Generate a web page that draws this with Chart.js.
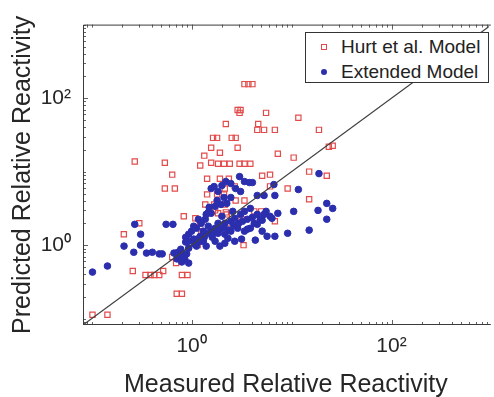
<!DOCTYPE html>
<html>
<head>
<meta charset="utf-8">
<script src="https://cdn.jsdelivr.net/npm/chart.js@4.4.0/dist/chart.umd.min.js"></script>
<style>
  html, body { margin: 0; padding: 0; background: #fff; overflow: hidden; }
  #wrap { position: relative; width: 494px; height: 397px; }
  #legend {
    position: absolute; left: 305px; top: 32px; width: 184px; height: 51px;
    border: 1px solid #333; background: #fff; box-sizing: border-box;
    font: 19px "Liberation Sans", Arial, sans-serif; color: #222;
  }
  .row { position: absolute; left: 0; height: 22px; line-height: 22px; white-space: nowrap; }
  .row span.txt { position: absolute; left: 35px; top: 0; }
  .mk { position: absolute; box-sizing: border-box; }
  .sq { left: 15px; top: 8px; width: 6px; height: 6px; border: 1.2px solid #e34b4b; }
  .dot { left: 15px; top: 8px; width: 6px; height: 6px; border-radius: 50%; background: #2b2fae; }
</style>
</head>
<body>
<div id="wrap">
  <canvas id="chart"></canvas>
  <div id="legend">
    <div class="row" style="top:3px"><span class="mk sq"></span><span class="txt">Hurt et al. Model</span></div>
    <div class="row" style="top:28px"><span class="mk dot"></span><span class="txt">Extended Model</span></div>
  </div>
</div>
<script>
(() => {

/* ---------- DATA ---------- */

const hurtX = [3.38, 3.70, 4.06, 2.89, 3.09, 3.02, 5.56, 11.7, 2.20, 4.64,
  4.54, 5.31, 6.81, 18.8, 1.64, 1.80, 2.52, 2.76, 1.57, 2.89,
  23.6, 25.8, 1.92, 1.34, 7.29, 10.5, 0.27, 0.54, 1.22, 1.57,
  1.84, 2.11, 2.41, 3.02, 3.38, 3.87, 0.64, 1.43, 1.92, 2.36,
  5.08, 6.09, 15.0, 22.5, 0.54, 0.68, 2.70, 2.15, 6.09, 9.14,
  1.43, 1.80, 2.11, 2.76, 3.38, 15.0, 1.37, 1.68, 2.15, 0.835,
  1.09, 1.22, 0.30, 0.21, 1.72, 2.20, 4.24, 4.97, 6.81, 2.25,
  1.15, 3.31, 0.64, 0.70, 0.258, 0.346, 0.388, 0.424, 0.475, 0.52,
  0.80, 0.91, 0.71, 0.80, 0.102, 0.144, 1.25, 2.41, 3.16, 1.84];
const hurtY = [155, 155, 155, 69, 69, 63, 63, 54, 44.5, 44.5,
  37, 37, 37, 37, 28.8, 28.8, 28.8, 28.8, 21.1, 21.1,
  21.8, 22.5, 18.1, 16.5, 17.5, 15.5, 13.7, 13.2, 12.1, 13.2,
  12.8, 12.8, 12.8, 12.8, 12.8, 12.8, 9.1, 8.0, 8.0, 8.0,
  8.8, 9.1, 10, 8.8, 5.9, 5.9, 6.3, 5.9, 6.3, 5.9,
  4.9, 4.9, 4.9, 4.06, 4.06, 4.2, 3.58, 3.58, 3.58, 2.47,
  2.32, 1.98, 1.98, 1.41, 2.97, 2.79, 2.88, 2.88, 2.11, 2.62,
  1.0, 1.0, 0.69, 0.57, 0.445, 0.393, 0.393, 0.393, 0.393, 0.445,
  0.393, 0.393, 0.218, 0.218, 0.113, 0.113, 1.55, 1.98, 2.25, 2.71];

const extX = [0.102, 0.144, 0.211, 0.270, 0.309, 0.264, 0.309, 0.354, 0.405, 0.475,
  0.508, 0.556, 0.651, 0.667, 0.729, 0.780, 0.835, 0.893, 0.798, 0.854,
  0.935, 0.798, 0.713, 0.935, 0.873, 0.935, 1.0, 1.12, 1.05, 1.22,
  1.31, 1.17, 1.25, 1.40, 1.57, 1.47, 1.72, 1.97, 2.25, 1.57,
  1.68, 1.84, 2.01, 2.20, 2.47, 2.76, 3.02, 3.38, 3.79, 4.06,
  3.09, 1.57, 1.72, 1.84, 2.15, 2.47, 2.70, 3.09, 3.38, 3.87,
  4.54, 5.31, 6.37, 2.15, 2.47, 2.89, 3.38, 3.87, 4.54, 5.08,
  5.69, 1.72, 2.15, 2.70, 3.16, 4.34, 6.81, 9.14, 15.0, 3.62,
  4.24, 5.08, 5.56, 6.09, 7.29, 10.5, 18.4, 22.5, 25.8, 22.5,
  4.54, 5.31, 6.81, 11.7, 18.8, 6.66, 1.31, 1.12, 1.40, 1.84,
  2.01, 2.58, 2.31, 1.17, 1.05, 1.47, 1.92,
  1.07, 1.14, 1.25, 1.34, 1.47, 1.61, 1.76, 1.92, 2.11, 2.36,
  2.64, 2.96, 3.23, 3.62, 4.06, 4.86, 1.37, 1.50, 1.80, 2.11,
  2.47, 0.935, 0.873];
const extY = [0.43, 0.52, 0.97, 1.92, 1.41, 0.80, 1.0, 0.78, 0.80, 0.76,
  0.76, 1.92, 1.92, 0.78, 0.80, 0.88, 0.76, 0.76, 0.69, 0.65,
  0.57, 0.59, 0.65, 0.91, 1.10, 1.41, 1.55, 1.70, 1.21, 1.32,
  1.55, 2.25, 1.98, 2.62, 2.71, 2.79, 3.37, 3.58, 3.70, 5.89,
  6.27, 5.37, 6.47, 7.33, 6.89, 5.89, 8.56, 7.33, 7.10, 7.10,
  5.37, 1.55, 1.70, 1.98, 1.98, 2.11, 2.32, 2.62, 2.88, 3.16,
  2.62, 2.62, 2.32, 1.41, 1.55, 1.70, 1.55, 1.70, 1.92, 1.55,
  1.32, 1.13, 1.06, 1.13, 1.21, 1.17, 1.32, 1.45, 1.60, 1.65,
  1.98, 2.18, 2.88, 2.47, 2.71, 2.88, 2.97, 3.70, 3.16, 2.25,
  4.74, 4.74, 4.74, 5.71, 9.40, 6.67, 1.13, 0.97, 0.97, 1.45,
  2.47, 2.88, 1.24, 1.13, 1.81, 1.81, 0.97,
  1.03, 1.21, 1.13, 1.28, 1.45, 1.28, 1.50, 1.65, 1.75, 1.60,
  1.86, 1.98, 2.11, 2.25, 2.39, 2.25, 2.25, 3.27, 4.06, 4.45,
  4.45, 1.13, 1.28];

const identity = [0.082, 1000];

const tickValues = [1, 100];
const tickLabels = ["10\u2070", "10\u00B2"];

/* ---------- FRAME + MINOR TICKS ---------- */

const FONT = '"Liberation Sans", Arial, Helvetica, sans-serif';
const INK = '#262626';

const frame = {
  id: 'frame',
  afterDatasetsDraw(chart) {
    const { ctx, chartArea: a, scales: { x, y } } = chart;
    ctx.save();
    ctx.strokeStyle = '#3a3a3a';
    ctx.lineWidth = 1;
    ctx.beginPath();
    ctx.moveTo(a.right + 2, a.top + 0.5);
    ctx.lineTo(a.left + 0.5, a.top + 0.5);
    ctx.lineTo(a.left + 0.5, a.bottom - 0.5);
    ctx.lineTo(a.right + 2, a.bottom - 0.5);
    ctx.stroke();

    ctx.lineWidth = 0.8;
    ctx.beginPath();
    for (let d = -2; d <= 3; d++) {
      for (let m = 1; m <= 9; m++) {
        const v = m * Math.pow(10, d);
        const len = (m === 1 && tickValues.includes(v)) ? 5 : 3;
        if (v >= x.min && v <= x.max) {
          const px = Math.round(x.getPixelForValue(v)) + 0.5;
          ctx.moveTo(px, a.bottom); ctx.lineTo(px, a.bottom - len);
          ctx.moveTo(px, a.top); ctx.lineTo(px, a.top + len);
        }
        if (v >= y.min && v <= y.max) {
          const py = Math.round(y.getPixelForValue(v)) + 0.5;
          ctx.moveTo(a.left, py); ctx.lineTo(a.left + len, py);
        }
      }
    }
    ctx.stroke();

    // y axis title (drawn here so it is not squeezed to the plot height)
    ctx.fillStyle = INK;
    ctx.font = '25px ' + FONT;
    ctx.textAlign = 'center';
    ctx.textBaseline = 'middle';
    ctx.translate(23, (a.top + a.bottom) / 2);
    ctx.rotate(-Math.PI / 2);
    ctx.fillText('Predicted Relative Reactivity', 0, 0);
    ctx.restore();
  }
};

/* ---------- CHART ---------- */

const zip = (xs, ys) => xs.map((v, i) => ({ x: v, y: ys[i] }));

const logTicks = scale => {
  scale.ticks = tickValues.map(v => ({ value: v }));
};

new Chart(document.getElementById('chart'), {
  type: 'scatter',
  data: {
    datasets: [
      {
        label: 'Hurt et al. Model',
        data: zip(hurtX, hurtY),
        pointStyle: 'rect',
        pointRadius: 3.7,
        borderColor: '#e34b4b',
        backgroundColor: 'rgba(0,0,0,0)',
        borderWidth: 1.2,
        order: 2
      },
      {
        label: 'Extended Model',
        data: zip(extX, extY),
        pointStyle: 'circle',
        pointRadius: 3.3,
        borderColor: '#2b2fae',
        backgroundColor: '#2b2fae',
        borderWidth: 1,
        order: 1
      },
      {
        label: 'y = x',
        data: identity.map(v => ({ x: v, y: v })),
        showLine: true,
        pointRadius: 0,
        borderColor: '#404040',
        borderWidth: 1.2,
        order: 0
      }
    ]
  },
  options: {
    responsive: true,
    maintainAspectRatio: false,
    animation: false,
    events: [],
    layout: { padding: { top: 23, right: 0, left: 0, bottom: 0 } },
    plugins: { legend: { display: false }, tooltip: { enabled: false } },
    scales: {
      x: {
        type: 'logarithmic',
        min: 0.082,
        max: 940,
        afterBuildTicks: logTicks,
        afterFit: s => { s.height = 72; },
        grid: { display: false, drawTicks: false },
        border: { display: false },
        ticks: {
          padding: 9,
          color: INK,
          font: { family: FONT, size: 21 },
          callback: v => tickLabels[tickValues.indexOf(v)] || ''
        },
        title: {
          display: true,
          text: 'Measured Relative Reactivity',
          color: INK,
          font: { family: FONT, size: 25 },
          padding: { top: 0, bottom: -3 }
        }
      },
      y: {
        type: 'logarithmic',
        min: 0.082,
        max: 1000,
        afterBuildTicks: logTicks,
        afterFit: s => { s.width = 83; },
        grid: { display: false, drawTicks: false },
        border: { display: false },
        ticks: {
          padding: 12,
          color: INK,
          font: { family: FONT, size: 21 },
          callback: v => tickLabels[tickValues.indexOf(v)] || ''
        }
      }
    }
  },
  plugins: [frame]
});

})();
</script>
</body>
</html>
